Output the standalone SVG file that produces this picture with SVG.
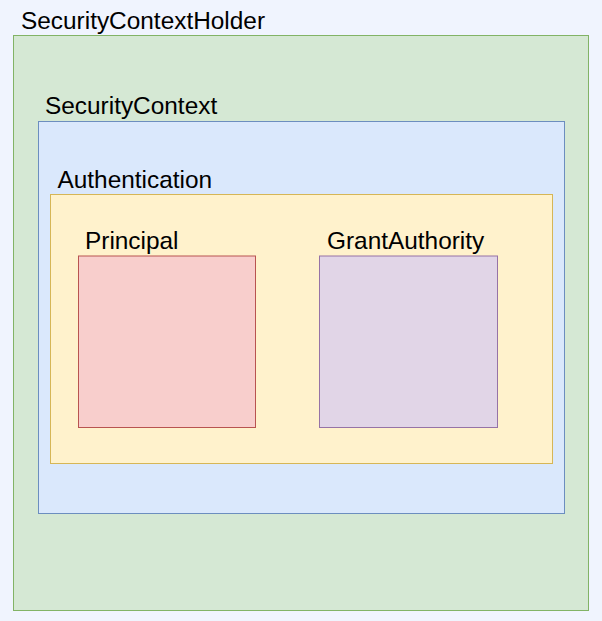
<svg xmlns="http://www.w3.org/2000/svg" width="602" height="621" viewBox="0 0 602 621">
<style>
text{font-family:"Liberation Sans",Arial,Helvetica,sans-serif;font-size:24.4px;fill:#000}
.g{fill:#d5e8d4;stroke:#82b366;stroke-width:1}
.b{fill:#dae8fc;stroke:#6c8ebf;stroke-width:1}
.y{fill:#fff2cc;stroke:#d6b656;stroke-width:1}
.r{fill:#f8cecc;stroke:#b85450;stroke-width:1}
.p{fill:#e1d5e7;stroke:#9673a6;stroke-width:1}
</style>
<rect x="0" y="0" width="602" height="621" fill="#f0f4fe"/>
<g id="securityContextHolder">
<rect class="g" x="13.5" y="35.5" width="575" height="575"/>
<text x="21" y="29">SecurityContextHolder</text>
</g>
<g id="securityContext">
<rect class="b" x="38.5" y="121.5" width="526" height="392"/>
<text x="45" y="114">SecurityContext</text>
</g>
<g id="authentication">
<rect class="y" x="50.5" y="194.5" width="502" height="269"/>
<text x="57.5" y="188">Authentication</text>
</g>
<g id="principal">
<rect class="r" x="78.5" y="256" width="177" height="171.5"/>
<text x="85" y="249">Principal</text>
</g>
<g id="grantAuthority">
<rect class="p" x="319.5" y="256" width="178" height="171.5"/>
<text x="327" y="249">GrantAuthority</text>
</g>
<g id="connectors"></g>
</svg>
